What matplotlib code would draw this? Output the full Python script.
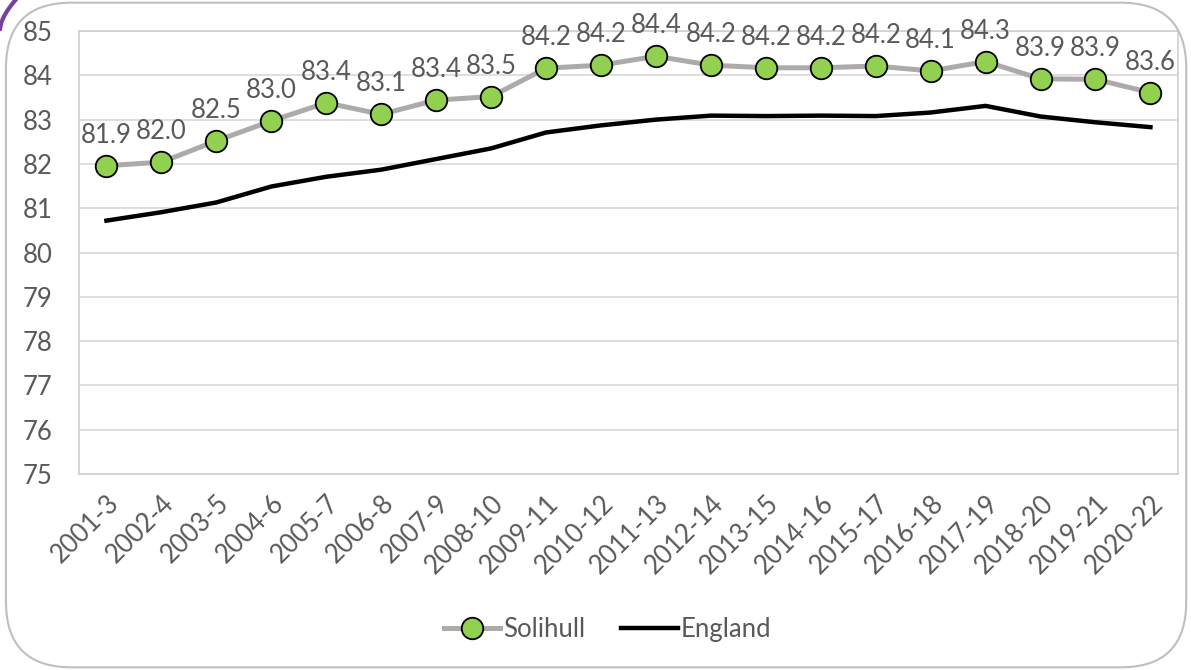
import numpy as np
import matplotlib.pyplot as plt
from matplotlib.patches import FancyBboxPatch

plt.rcParams['font.family'] = ['Lato', 'DejaVu Sans']

periods = ["2001-3", "2002-4", "2003-5", "2004-6", "2005-7", "2006-8", "2007-9",
           "2008-10", "2009-11", "2010-12", "2011-13", "2012-14", "2013-15",
           "2014-16", "2015-17", "2016-18", "2017-19", "2018-20", "2019-21", "2020-22"]
solihull = [81.9, 82.0, 82.5, 83.0, 83.4, 83.1, 83.4, 83.5, 84.2, 84.2,
            84.4, 84.2, 84.2, 84.2, 84.2, 84.1, 84.3, 83.9, 83.9, 83.6]
# marker heights (labels are rounded)
solihull_pos = [81.96, 82.04, 82.52, 82.97, 83.38, 83.12, 83.44, 83.52, 84.16, 84.23,
                84.43, 84.23, 84.17, 84.17, 84.21, 84.10, 84.31, 83.92, 83.91, 83.61]
england = [80.72, 80.91, 81.13, 81.49, 81.71, 81.87, 82.11, 82.35, 82.71, 82.87,
           83.00, 83.09, 83.08, 83.09, 83.08, 83.16, 83.31, 83.07, 82.94, 82.83]

text_col = '#595959'
fs = 18.5
fig = plt.figure(figsize=(11.91, 6.70), dpi=100)

# rounded chart border and purple stroke in the corner
border = FancyBboxPatch((0.005, 0.004), 0.991, 0.992, boxstyle="round,pad=0,rounding_size=0.055",
                        transform=fig.transFigure, fill=False, edgecolor='#BFBFBF', linewidth=1.5,
                        mutation_aspect=1191 / 670)
fig.patches.append(border)
t = np.linspace(0, 1, 20)
fig.lines.append(plt.Line2D(0.0 + 0.013 * t ** 0.8, 0.957 + 0.043 * np.sqrt(t),
                            transform=fig.transFigure, color='#7A3E9D', linewidth=3))

ax = fig.add_axes([0.0663, 0.2925, 0.9227, 0.6612])
x = np.arange(len(periods))

ax.plot(x, england, color='black', linewidth=3.2, label='England', zorder=3)
ax.plot(x, solihull_pos, color='#AEAAAA', linewidth=3.6, marker='o', markersize=15.5,
        markerfacecolor='#92D050', markeredgecolor='black', markeredgewidth=1.3,
        label='Solihull', zorder=4)

for xi, yv, lab in zip(x, solihull_pos, solihull):
    ax.annotate(f"{lab:.1f}", (xi, yv), xytext=(0, 13), textcoords='offset points',
                ha='center', va='bottom', fontsize=fs, color=text_col)

ax.set_xlim(-0.5, len(periods) - 0.5)
ax.set_ylim(75, 85)
ax.set_yticks(range(75, 86))
ax.set_xticks(x)
ax.set_xticklabels(periods, rotation=45, ha='right', rotation_mode='anchor')
ax.tick_params(axis='both', length=0, labelsize=fs, labelcolor=text_col)
ax.tick_params(axis='y', pad=19)
ax.tick_params(axis='x', pad=12)
ax.grid(axis='y', color='#D9D9D9', linewidth=1.2)
ax.set_axisbelow(True)
for s in ax.spines.values():
    s.set_color('#D0D0D0')
    s.set_linewidth(1.2)

handles, labels = ax.get_legend_handles_labels()
fig.legend(handles[::-1], labels[::-1], loc='center', bbox_to_anchor=(0.51, 0.06), ncol=2,
           frameon=False, fontsize=fs, labelcolor=text_col, handlelength=2.2,
           handletextpad=0.1, columnspacing=1.4)

fig.savefig('out.png', dpi=100)
